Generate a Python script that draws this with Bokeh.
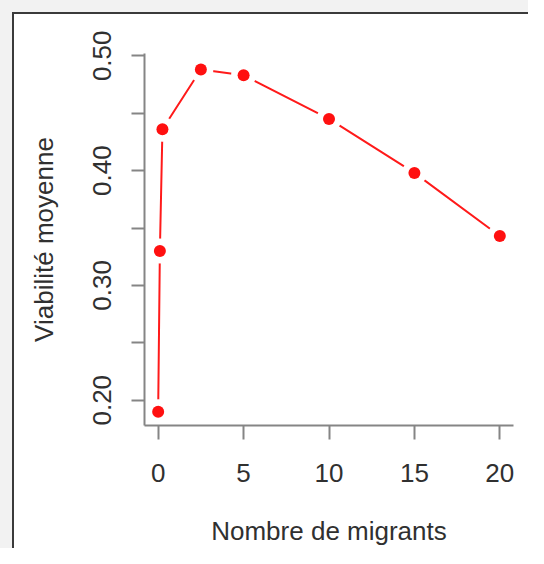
from bokeh.plotting import figure
from bokeh.models import Range1d, FixedTicker
from bokeh.embed import file_html
from bokeh.resources import INLINE

# Data
migrants = [0, 0.1, 0.25, 2.5, 5, 10, 15, 20]
viabilite = [0.19, 0.33, 0.436, 0.488, 0.483, 0.445, 0.398, 0.343]

x_ticks = [0, 5, 10, 15, 20]
y_ticks = [0.20, 0.25, 0.30, 0.35, 0.40, 0.45, 0.50]
y_labels = ["0.20", "", "0.30", "", "0.40", "", "0.50"]
x_limits = (-0.8, 20.8)
y_limits = (0.178, 0.502)

FONT = "Liberation Sans"
TXT = "#303030"
AX = "#858585"
FS = "26px"

p = figure(width=528, height=548, output_backend="svg", toolbar_location=None,
           x_range=Range1d(*x_limits), y_range=Range1d(*y_limits),
           min_border_left=144, min_border_right=15,
           min_border_top=53, min_border_bottom=122)

# transparent canvas border so the element's CSS background shows:
# grey outer strip, dark panel border on top/left, white panel
p.border_fill_alpha = 0.0
p.background_fill_color = "white"
p.outline_line_color = None
p.grid.visible = False
p.styles = {
    "background": (
        "linear-gradient(#3a3a3a, #3a3a3a) 12px 12px / 100% 2px no-repeat, "
        "linear-gradient(#3a3a3a, #3a3a3a) 12px 12px / 2px 100% no-repeat, "
        "linear-gradient(#ffffff, #ffffff) 12px 12px / 100% 100% no-repeat, "
        "#f2f2f2"
    )
}

# line with gaps (R type="b")
p.line(migrants, viabilite, line_color="#ff1a1a", line_width=2)
p.scatter(migrants, viabilite, size=25, fill_color="white", line_color=None)
p.scatter(migrants, viabilite, size=12, fill_color="#ff1010", line_color=None)

for ax in (p.xaxis[0], p.yaxis[0]):
    ax.axis_line_color = AX
    ax.axis_line_width = 2
    ax.major_tick_line_color = AX
    ax.major_tick_line_width = 2
    ax.major_tick_in = 0
    ax.minor_tick_line_color = None
    ax.major_label_text_font = FONT
    ax.major_label_text_font_size = FS
    ax.major_label_text_color = TXT
    ax.axis_label_text_font = FONT
    ax.axis_label_text_font_size = FS
    ax.axis_label_text_font_style = "normal"
    ax.axis_label_text_color = TXT

p.xaxis.ticker = FixedTicker(ticks=x_ticks)
p.xaxis.major_tick_out = 14
p.xaxis.major_label_standoff = 24
p.xaxis.axis_label = "Nombre de migrants"
p.xaxis.axis_label_standoff = 31

p.yaxis.ticker = FixedTicker(ticks=y_ticks)
p.yaxis.major_label_overrides = {t: l for t, l in zip(y_ticks, y_labels)}
p.yaxis.major_label_orientation = "vertical"
p.yaxis.major_tick_out = 13
p.yaxis.major_label_standoff = 20
p.yaxis.axis_label = "Viabilité moyenne"
p.yaxis.axis_label_standoff = 32

open("out.html", "w").write(file_html(p, INLINE))
